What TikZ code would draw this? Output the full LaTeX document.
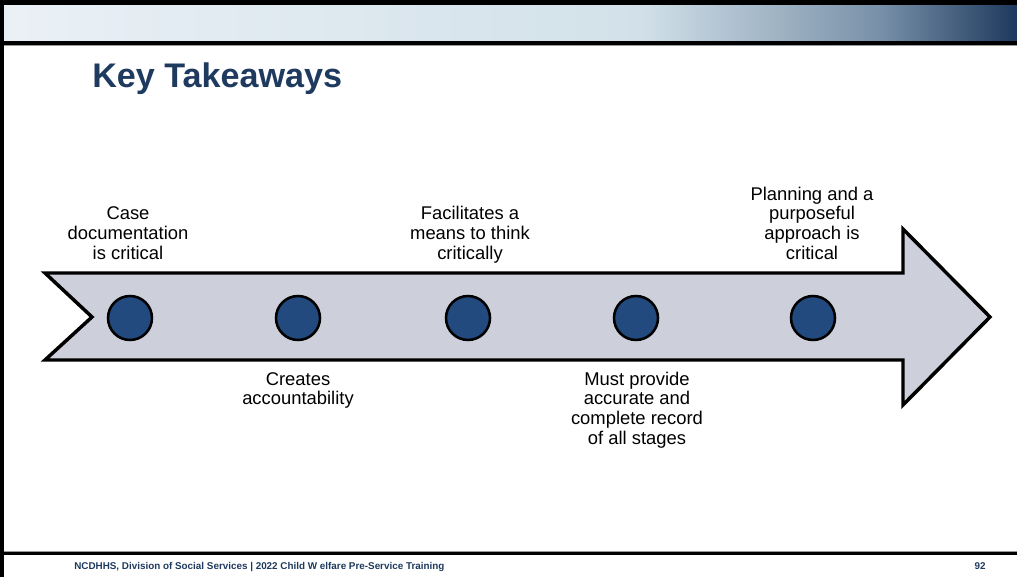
\documentclass[tikz,border=0pt]{standalone}
\usepackage{fontspec}
\setmainfont{Liberation Sans}
\definecolor{navy}{HTML}{1F3A5F}
\definecolor{gA}{HTML}{EAF0F6}
\definecolor{gB}{HTML}{D2E1E9}
\definecolor{gC}{HTML}{7890A8}
\definecolor{gD}{HTML}{1E395E}
\definecolor{arrowfill}{HTML}{CDD0DA}
\definecolor{dotfill}{HTML}{224A7E}
\definecolor{rulegray}{HTML}{9A9A9A}
\newcommand{\ls}{\strut}
\tikzset{
  bodytext/.style={font=\fontsize{13.8}{14.8}\selectfont, align=center, inner sep=0pt, text=black},
  dot/.style={circle, draw=black, line width=1.9pt, fill=dotfill, minimum size=44*0.75pt, inner sep=0pt},
  bigarrow/.style={draw=black, line width=2.6pt, fill=arrowfill, line join=miter},
}
\begin{document}
\begin{tikzpicture}[x=0.75pt, y=-0.75pt]
\useasboundingbox (0,0) rectangle (1017,577);
\fill[white] (0,0) rectangle (1017,577);
% header gradient
\shade[left color=gA, right color=gB] (4,5) rectangle (640.5,41);
\shade[left color=gB, right color=gC] (640,5) rectangle (880.5,41);
\shade[left color=gC, right color=gD] (880,5) rectangle (1017,41);
\fill[black] (0,0) rectangle (1017,5);
\fill[black] (4,41) rectangle (1017,45);
\fill[rulegray] (4,45) rectangle (1017,46);
\fill[black] (0,0) rectangle (4,577);
% footer rule
\fill[rulegray] (4,550.5) rectangle (1017,551.5);
\fill[black] (4,551.5) rectangle (1017,555);
% title
\node[anchor=base west, inner sep=0pt, text=navy, font=\fontsize{25.6}{30}\selectfont\bfseries] (title) at (92,88) {Key Takeaways};
% arrow
\draw[bigarrow] (45,273) -- (903,273) -- (903,229) -- (990,317) -- (903,405) -- (903,360) -- (45,360) -- (92,317) -- cycle;
% dots
\node[dot] (d1) at (130,318) {};
\node[dot] (d2) at (298,318) {};
\node[dot] (d3) at (468,318) {};
\node[dot] (d4) at (636,318) {};
\node[dot] (d5) at (813,318) {};
% labels above
\node[bodytext, anchor=south] (t1) at (128,265.5) {Case\ls\\documentation\ls\\is critical\ls};
\node[bodytext, anchor=south] (t3) at (470,265.5) {Facilitates a\ls\\means to think\ls\\critically\ls};
\node[bodytext, anchor=south] (t5) at (812,265.5) {Planning and a\ls\\purposeful\ls\\approach is\ls\\critical\ls};
% labels below
\node[bodytext, anchor=north] (t2) at (298,371) {Creates\ls\\accountability\ls};
\node[bodytext, anchor=north] (t4) at (637,371) {Must provide\ls\\accurate and\ls\\complete record\ls\\of all stages\ls};
% footer
\node[anchor=base west, inner sep=0pt, text=navy, font=\fontsize{7.4}{9}\selectfont\bfseries] (foot) at (74,569) {NCDHHS, Division of Social Services | 2022 Child W elfare Pre-Service Training};
\node[anchor=base, inner sep=0pt, text=navy, font=\fontsize{7.4}{9}\selectfont\bfseries] (page) at (980,569) {92};
\end{tikzpicture}
\end{document}
